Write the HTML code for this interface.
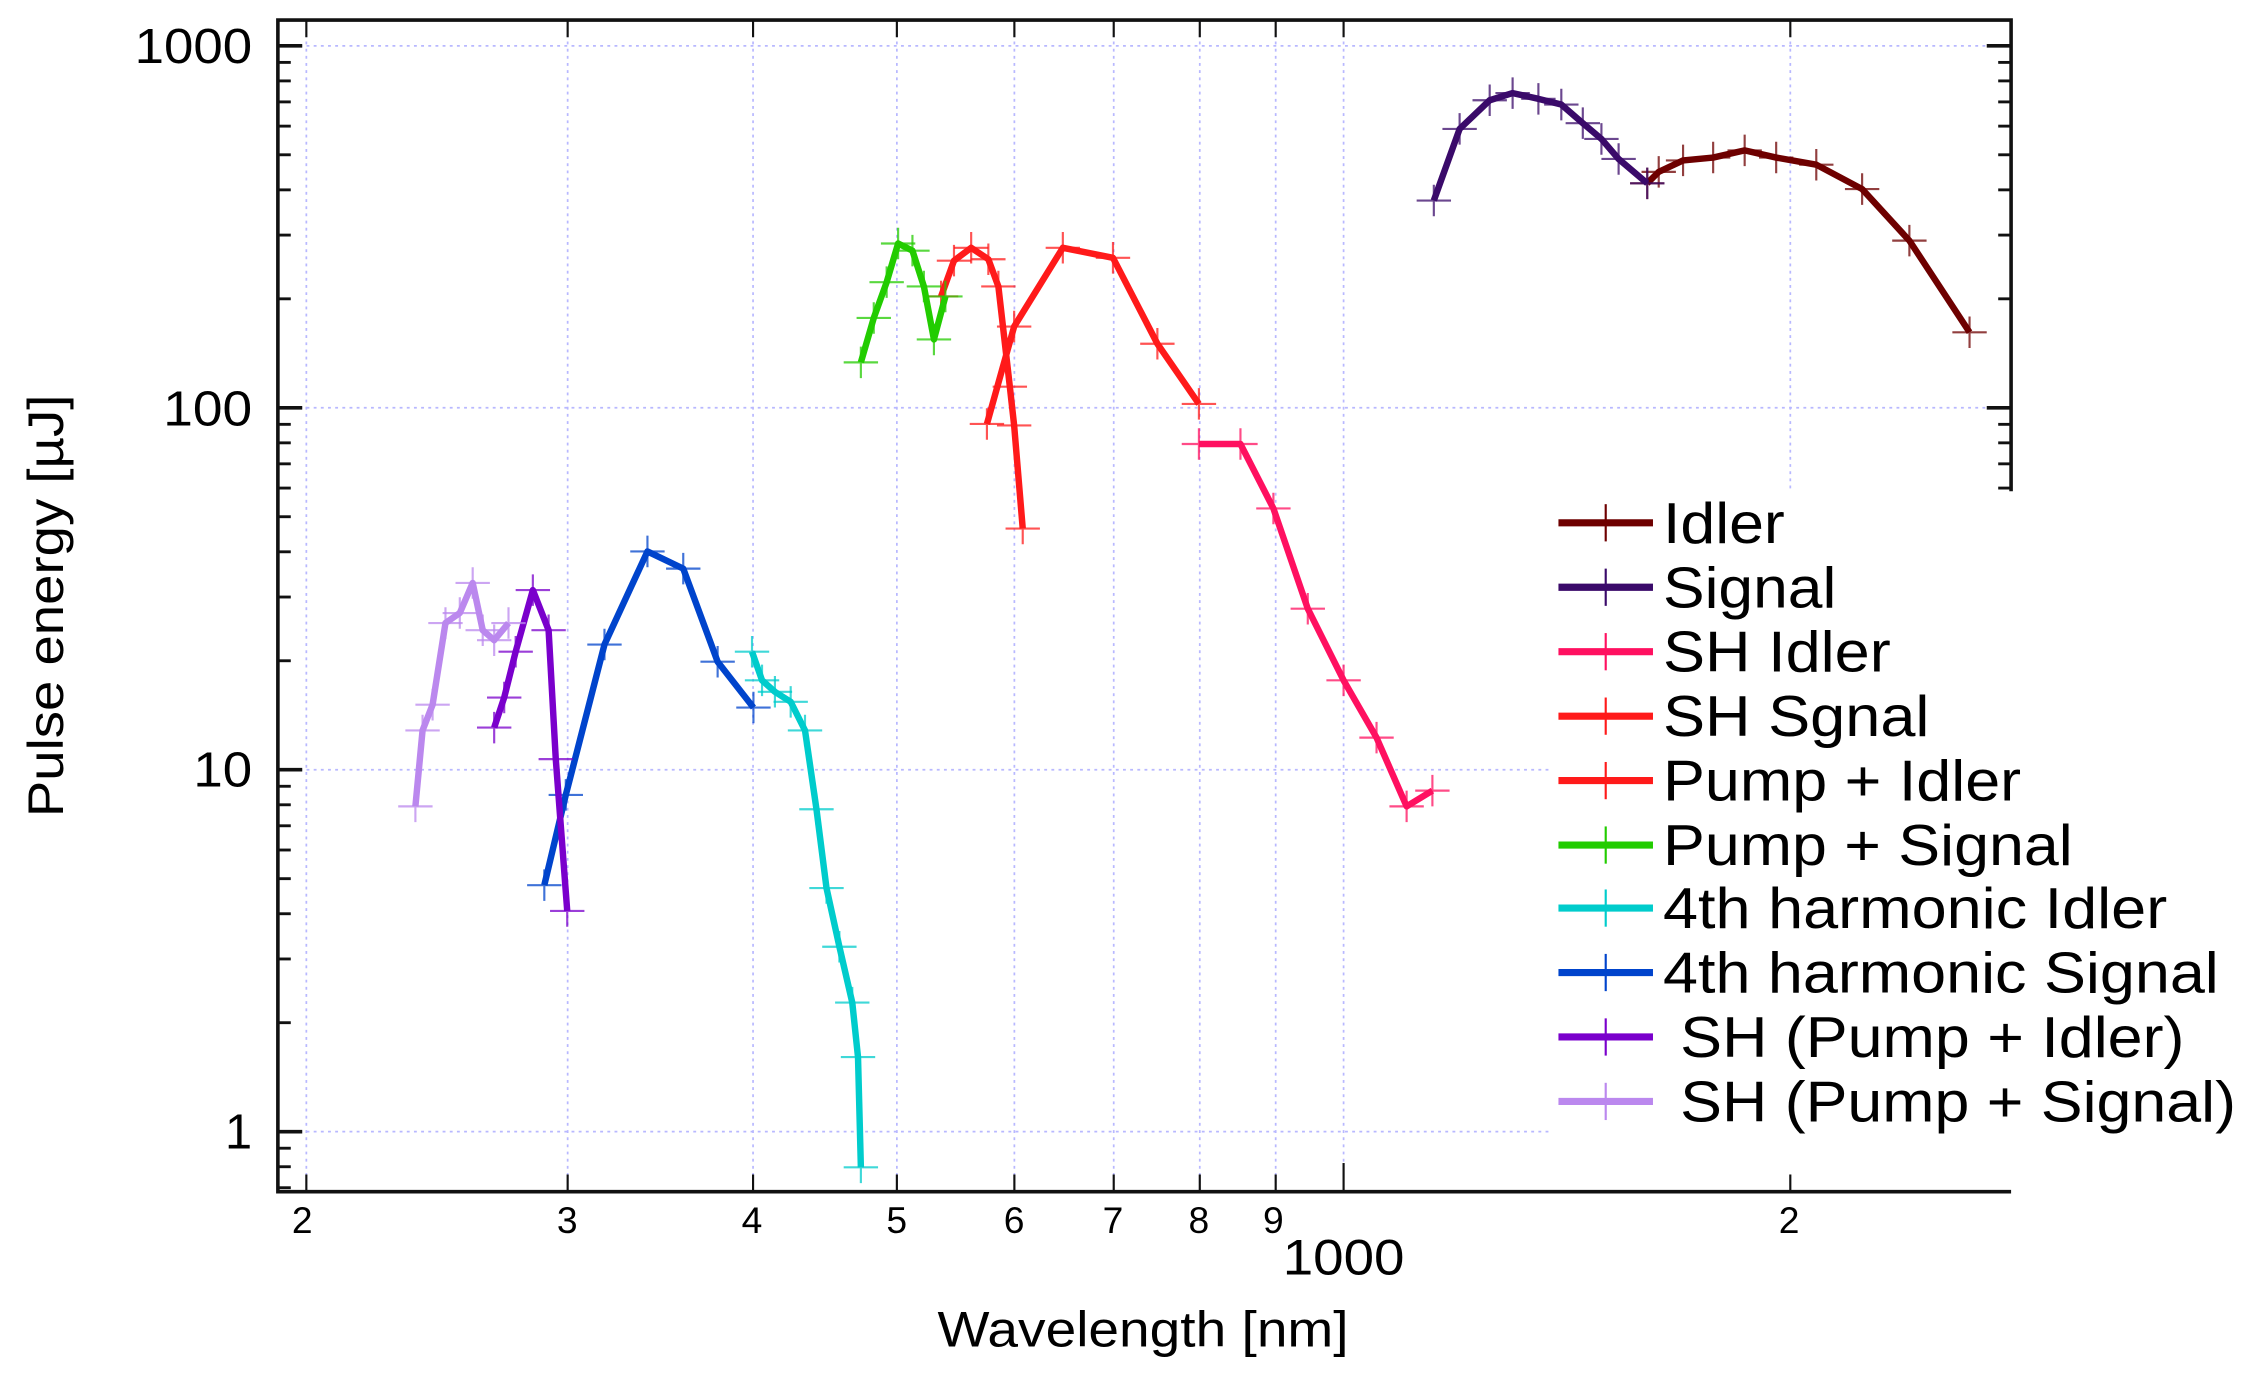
<!DOCTYPE html>
<html><head><meta charset="utf-8"><style>
html,body{margin:0;padding:0;background:#fff;}
svg{display:block;}
text{font-family:"Liberation Sans",sans-serif;fill:#000;}
</style></head><body>
<svg id="s" width="2246" height="1375" viewBox="0 0 1568 960" preserveAspectRatio="none" xmlns="http://www.w3.org/2000/svg">
<g id="grid"></g>
<g id="ticks"></g>
<g id="data"></g>
<rect x="1083" y="344" width="485" height="452" fill="#fff"/>
<g id="axes" stroke="#111" stroke-width="2.5" fill="none">
<polyline points="1404,343 1404,14 194,14 194,832 1404,832"/>
</g>
<g id="legend"></g>
<g font-size="34" text-anchor="end" lengthAdjust="spacingAndGlyphs">
<text x="176" y="44" textLength="82" lengthAdjust="spacingAndGlyphs">1000</text>
<text x="176" y="297" textLength="62" lengthAdjust="spacingAndGlyphs">100</text>
<text x="176" y="549" textLength="41" lengthAdjust="spacingAndGlyphs">10</text>
<text x="176" y="802">1</text>
</g>
<g font-size="26" text-anchor="middle">
<text x="211" y="861">2</text><text x="396" y="861">3</text><text x="525" y="861">4</text>
<text x="626" y="861">5</text><text x="708" y="861">6</text><text x="777" y="861">7</text>
<text x="837" y="861">8</text><text x="889" y="861">9</text><text x="1249" y="861">2</text>
</g>
<text x="938" y="890" font-size="35" text-anchor="middle" textLength="85" lengthAdjust="spacingAndGlyphs">1000</text>
<text x="798" y="940" font-size="35" text-anchor="middle" textLength="287" lengthAdjust="spacingAndGlyphs">Wavelength [nm]</text>
<text transform="translate(44,423) rotate(-90)" font-size="35" text-anchor="middle" textLength="295" lengthAdjust="spacingAndGlyphs">Pulse energy [µJ]</text>
<g font-size="40">
<text x="1161" y="379" textLength="85" lengthAdjust="spacingAndGlyphs">Idler</text>
<text x="1161" y="424" textLength="121" lengthAdjust="spacingAndGlyphs">Signal</text>
<text x="1161" y="469" textLength="159" lengthAdjust="spacingAndGlyphs">SH Idler</text>
<text x="1161" y="514" textLength="186" lengthAdjust="spacingAndGlyphs">SH Sgnal</text>
<text x="1161" y="559" textLength="250" lengthAdjust="spacingAndGlyphs">Pump + Idler</text>
<text x="1161" y="604" textLength="286" lengthAdjust="spacingAndGlyphs">Pump + Signal</text>
<text x="1161" y="648" textLength="352" lengthAdjust="spacingAndGlyphs">4th harmonic Idler</text>
<text x="1161" y="693" textLength="388" lengthAdjust="spacingAndGlyphs">4th harmonic Signal</text>
<text x="1173" y="738" textLength="352" lengthAdjust="spacingAndGlyphs">SH (Pump + Idler)</text>
<text x="1173" y="783" textLength="388" lengthAdjust="spacingAndGlyphs">SH (Pump + Signal)</text>
</g>
</svg>
<script>
const NS="http://www.w3.org/2000/svg";
function el(p,t,a){const e=document.createElementNS(NS,t);for(const k in a)e.setAttribute(k,a[k]);document.getElementById(p).appendChild(e);return e;}
const X=l=>938+1036*Math.log10(l/1000);
const Y=v=>32+252.7*(3-Math.log10(v));
const xs=[200,300,400,500,600,700,800,900,1000,2000];
xs.forEach(l=>{const x=X(l);const yb=(x>1083)?343:832;
 el("grid","line",{x1:x,y1:14,x2:x,y2:yb,stroke:"#b8b8ff","stroke-width":1.2,"stroke-dasharray":"2,3"});
 el("ticks","line",{x1:x,y1:832,x2:x,y2:(l==1000?812:820),stroke:"#111","stroke-width":1.5});
 el("ticks","line",{x1:x,y1:14,x2:x,y2:26,stroke:"#111","stroke-width":1.5});});
[1000,100,10,1].forEach(v=>{const y=Y(v);el("grid","line",{x1:194,y1:y,x2:(y>343?1083:1404),y2:y,stroke:"#b8b8ff","stroke-width":1.2,"stroke-dasharray":"2,3"});
 el("ticks","line",{x1:194,y1:y,x2:211,y2:y,stroke:"#111","stroke-width":2.5});
 if(y<343)el("ticks","line",{x1:1404,y1:y,x2:1387,y2:y,stroke:"#111","stroke-width":2.5});});
for(let d=-1;d<3;d++)for(let m=2;m<10;m++){const v=m*Math.pow(10,d);const y=Y(v);if(y<14||y>832)continue;
 el("ticks","line",{x1:194,y1:y,x2:203,y2:y,stroke:"#111","stroke-width":2});
 if(y<343)el("ticks","line",{x1:1404,y1:y,x2:1395,y2:y,stroke:"#111","stroke-width":2});}
const series=[
["#6e0000",[[1150,128],[1158,120],[1175,112],[1196,110],[1218,105],[1240,110],[1268,115],[1300,132],[1333,168],[1375,232]]],
["#3a0a6a",[[1001,140],[1019,90],[1040,70],[1056,65],[1074,69],[1090,73],[1105,86],[1118,97],[1130,111],[1150,128]]],
["#ff1060",[[837,310],[866,310],[889,355],[913,425],[938,475],[961,515],[982,563],[1000,552]]],
["#ff1a1a",[[657,207],[666,182],[678,173],[690,181],[697,200],[705,270],[708,297],[714,369]]],
["#ff1a1a",[[689,296],[708,228],[742,173],[777,180],[808,240],[837,282]]],
["#22cc00",[[601,253],[610,222],[619,197],[627,170],[637,175],[645,200],[652,237],[660,207]]],
["#00cccc",[[525,455],[532,475],[541,483],[552,490],[562,510],[570,565],[577,620],[586,661],[595,700],[599,738],[601,815]]],
["#0044cc",[[380,618],[395,555],[422,450],[452,385],[477,397],[501,462],[526,494]]],
["#7a00cc",[[345,508],[352,487],[360,455],[372,412],[383,440],[388,530],[396,636]]],
["#bb88ee",[[290,563],[295,510],[302,492],[311,435],[321,428],[330,407],[337,440],[345,447],[355,435]]]];
series.forEach((s,i)=>{
 el("data","polyline",{points:s[1].map(p=>p.join(",")).join(" "),fill:"none",stroke:s[0],"stroke-width":4.5,"stroke-linejoin":"round"});
 s[1].forEach(p=>{el("data","path",{d:`M${p[0]-12},${p[1]}h24M${p[0]},${p[1]-11}v22`,stroke:s[0],"stroke-width":1.5,opacity:0.75});});
 const ly=[365,410,455,500,545,590,634,679,724,769][i];
 el("legend","line",{x1:1088,y1:ly,x2:1154,y2:ly,stroke:s[0],"stroke-width":5});
 el("legend","line",{x1:1121,y1:ly-13,x2:1121,y2:ly+13,stroke:s[0],"stroke-width":1.5});
});
</script>
</body></html>
